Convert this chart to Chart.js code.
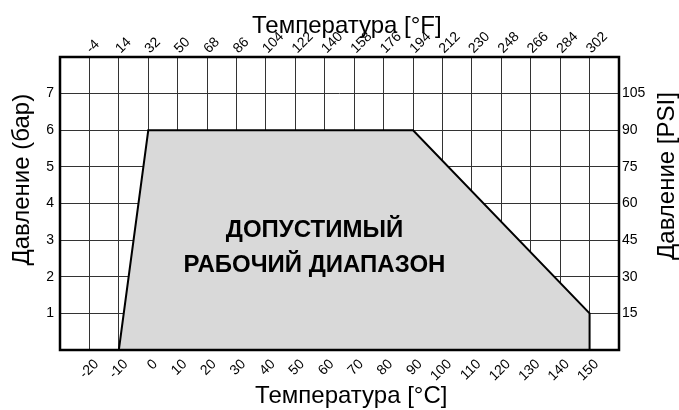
<!DOCTYPE html>
<html>
<head>
<meta charset="utf-8">
<script src="https://cdn.jsdelivr.net/npm/chart.js@4/dist/chart.umd.min.js"></script>
<style>
  html, body { margin: 0; padding: 0; background: #fff; }
  #wrap { width: 679px; height: 410px; }
</style>
</head>
<body>
<div id="wrap"><canvas id="rangeChart" width="679" height="410"></canvas></div>
<script>
// Допустимый рабочий диапазон: температура (°C) / давление (бар)
const tempC = [-10, 0, 90, 150, 150];
const pressBar = [0, 6, 6, 1, 0];
const cTicks = [-20, -10, 0, 10, 20, 30, 40, 50, 60, 70, 80, 90, 100, 110, 120, 130, 140, 150];
const fTicks = [-4, 14, 32, 50, 68, 86, 104, 122, 140, 158, 176, 194, 212, 230, 248, 266, 284, 302];
const barTicks = [1, 2, 3, 4, 5, 6, 7];
const psiTicks = [15, 30, 45, 60, 75, 90, 105];
const areaLines = ['ДОПУСТИМЫЙ', 'РАБОЧИЙ ДИАПАЗОН'];
const titleTop = 'Температура [°F]';
const titleBottom = 'Температура [°C]';
const titleLeft = 'Давление (бар)';
const titleRight = 'Давление [PSI]';

const FONT = "'Liberation Sans', Arial, sans-serif";

const frame = {
    id: 'frame',
    afterDraw(chart) {
        const { ctx, chartArea: a, scales } = chart;
        ctx.save();
        // подпись области
        ctx.fillStyle = '#000';
        ctx.font = 'bold 24px ' + FONT;
        ctx.textAlign = 'center';
        ctx.textBaseline = 'alphabetic';
        const cx = scales.x.getPixelForValue(56.5);
        ctx.fillText(areaLines[0], cx, scales.y.getPixelForValue(3.085));
        ctx.fillText(areaLines[1], cx, scales.y.getPixelForValue(2.13));
        // рамка
        ctx.strokeStyle = '#000';
        ctx.lineWidth = 2.5;
        ctx.strokeRect(a.left, a.top, a.right - a.left, a.bottom - a.top);
        // заголовки осей
        ctx.font = '24px ' + FONT;
        ctx.fillText(titleTop, scales.x.getPixelForValue(67.5), 33);
        ctx.fillText(titleBottom, scales.x.getPixelForValue(69), 403);
        // давление: оба заголовка читаются снизу вверх
        ctx.textBaseline = 'middle';
        ctx.save();
        ctx.translate(22, scales.y.getPixelForValue(4.65));
        ctx.rotate(-Math.PI / 2);
        ctx.fillText(titleLeft, 0, 0);
        ctx.restore();
        ctx.translate(667, scales.y.getPixelForValue(4.75));
        ctx.rotate(-Math.PI / 2);
        ctx.fillText(titleRight, 0, 0);
        ctx.restore();
    }
};

const fit = (size) => function(scale) {
    if (scale.isHorizontal()) scale.height = size; else scale.width = size;
};

const tickFont = { family: FONT, size: 14 };

new Chart(document.getElementById('rangeChart').getContext('2d'), {
    type: 'line',
    data: {
        datasets: [{
            data: tempC.map((t, i) => ({ x: t, y: pressBar[i] })),
            borderColor: '#000',
            borderWidth: 2,
            backgroundColor: '#d9d9d9',
            fill: 'origin',
            pointRadius: 0,
            tension: 0
        }]
    },
    options: {
        responsive: false,
        animation: false,
        layout: { padding: 0 },
        plugins: { legend: { display: false }, tooltip: { enabled: false } },
        scales: {
            x: {
                type: 'linear', position: 'bottom', min: -30, max: 160, z: 1,
                afterFit: fit(60),
                afterBuildTicks: (s) => { s.ticks = [-30].concat(cTicks, [160]).map(v => ({ value: v })); },
                grid: { color: '#333', lineWidth: 1, drawTicks: false },
                border: { display: false },
                ticks: {
                    color: '#000', font: tickFont, padding: 6, labelOffset: 7,
                    minRotation: 45, maxRotation: 45,
                    callback: (v) => cTicks.includes(v) ? String(v) : ''
                }
            },
            x2: {
                type: 'linear', position: 'top', min: -30, max: 160,
                afterFit: fit(57),
                afterBuildTicks: (s) => { s.ticks = cTicks.map(v => ({ value: v })); },
                grid: { display: false },
                border: { display: false },
                ticks: {
                    color: '#000', font: tickFont, padding: -8, labelOffset: 11,
                    minRotation: 45, maxRotation: 45,
                    callback: (v) => String(fTicks[cTicks.indexOf(v)])
                }
            },
            y: {
                type: 'linear', position: 'left', min: 0, max: 8, z: 1,
                afterFit: fit(60),
                afterBuildTicks: (s) => { s.ticks = [0].concat(barTicks, [8]).map(v => ({ value: v })); },
                grid: { color: '#333', lineWidth: 1, drawTicks: false },
                border: { display: false },
                ticks: {
                    color: '#000', font: tickFont, padding: 6,
                    callback: (v) => barTicks.includes(v) ? String(v) : ''
                }
            },
            y2: {
                type: 'linear', position: 'right', min: 0, max: 120,
                afterFit: fit(60),
                afterBuildTicks: (s) => { s.ticks = psiTicks.map(v => ({ value: v })); },
                grid: { display: false, drawTicks: false },
                border: { display: false },
                ticks: { color: '#000', font: tickFont, padding: 3 }
            }
        }
    },
    plugins: [frame]
});
</script>
</body>
</html>
